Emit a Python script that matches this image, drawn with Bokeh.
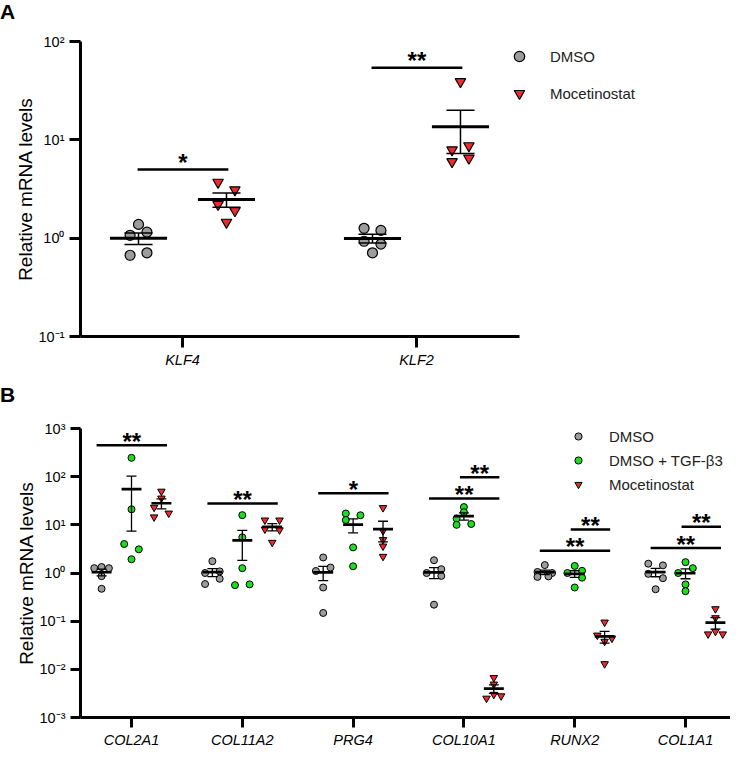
import numpy as np
from bokeh.plotting import figure
from bokeh.models import (Range1d, FixedTicker, CustomJSTickFormatter, Legend,
                          LegendItem, Div)
from bokeh.layouts import column
from bokeh.embed import file_html
from bokeh.resources import INLINE
from bokeh.core.properties import value

FONT = "Liberation Sans"

# ---------------- Panel A data ----------------
A_GENES = ["KLF4", "KLF2"]
A_GROUPS = ["DMSO", "Mocetinostat"]
A_DMSO = [[1.38, 1.15, 1.07, 0.67, 0.71],
          [1.26, 1.20, 0.93, 0.87, 0.71]]
A_MOCE = [[3.7, 3.1, 2.2, 1.9, 1.45],
          [39.0, 7.9, 8.7, 6.0, 6.5]]
A_SIG_Y = [5.0, 54.0]
A_SIG_TEXT = ["*", "**"]
A_YTICKS = [0.1, 1, 10, 100]

# ---------------- Panel B data ----------------
B_GENES = ["COL2A1", "COL11A2", "PRG4", "COL10A1", "RUNX2", "COL1A1"]
B_GROUPS = ["DMSO", "DMSO + TGF-β3", "Mocetinostat"]
B_DMSO = [[1.26, 1.33, 1.26, 0.86, 0.47],
          [1.76, 1.00, 1.08, 0.76, 0.59],
          [2.10, 1.10, 1.30, 0.50, 0.148],
          [1.84, 1.00, 1.20, 0.87, 0.22],
          [1.46, 1.05, 1.00, 0.83, 0.85],
          [1.56, 1.44, 0.96, 0.78, 0.46]]
B_TGF = [[246.0, 21.0, 4.0, 3.1, 1.93],
         [15.9, 5.5, 1.26, 0.56, 0.58],
         [17.2, 15.8, 12.6, 3.4, 1.38],
         [23.4, 18.3, 13.5, 10.0, 10.4],
         [1.40, 1.00, 1.11, 0.80, 0.50],
         [1.68, 1.26, 1.00, 0.58, 0.42]]
B_MOCE = [[49.6, 35.7, 23.0, 17.4, 14.5],
          [12.5, 12.5, 8.1, 7.8, 4.3],
          [22.6, 7.5, 4.9, 3.6, 2.2],
          [0.0067, 0.0049, 0.0025, 0.0030, 0.0028],
          [0.095, 0.051, 0.044, 0.038, 0.013],
          [0.18, 0.117, 0.054, 0.061, 0.054]]
# significance brackets: gene index, first group, last group, height, label
B_SIG_GENE = [0, 1, 2, 3, 3, 4, 4, 5, 5]
B_SIG_FROM = [0, 0, 0, 0, 1, 0, 1, 0, 1]
B_SIG_TO = [2, 2, 2, 2, 2, 2, 2, 2, 2]
B_SIG_Y = [447.0, 27.6, 45.0, 35.4, 97.0, 2.9, 8.0, 3.3, 9.1]
B_SIG_TEXT = ["**", "**", "*", "**", "**", "**", "**", "**", "**"]
B_YTICKS = [1e-3, 1e-2, 1e-1, 1, 10, 100, 1000]

# ---------------- layout (not data) ----------------
A_OFF = [-0.188, 0.188]
A_JSTEP = 0.036
A_JIT = [[[0, 1, -1, -1, 1], [-1, 1, -1, 1, 0]],
         [[-1, 1, -1, 1, 0], [0, -1, 1, -1, 1]]]
B_OFF = [-0.27, 0.0, 0.27]
B_JSTEP = 0.066
B_JIT = [[[-1, 0, 1, 0, 0], [0, -1, 1, 1, -1], [0, -1, 1, 0, 0],
          [0, -1, 1, 1, 0], [0, -1, 1, -1, 0.5], [-1, 1, -1, 1, 0]],
         [[0, 0, -1, 1, 0], [0, 0, 0, -1, 1], [-1, 1, -1, 0, 0],
          [0, 0, -1, -1, 1], [0, -1, 1, 1, 0], [0, 1, -1, 0, 0]],
         [[0, 0, -1, 1, -1], [-1, 1, -1, 1, 0], [0, 0, 0, 0, 0],
          [0, 0, -1, 0, 1], [0, -1, 1, 0, 0], [0, 0, -1, 0, 1]]]

GRAY = "#9c9c9c"
RED = "#ec2a30"
GREEN = "#1fdc1f"
W = 730

SUP = "const sup = {'-': '\u207b', '0': '\u2070', '1': '\u00b9', '2': '\u00b2', '3': '\u00b3'};"
YFMT = CustomJSTickFormatter(code=SUP + """
const e = Math.round(Math.log10(tick));
return '10' + String(e).split('').map(c => sup[c]).join('');
""")


def letter_div(letter, h):
    return Div(text=f"<div style=\"font-family:'{FONT}'; font-weight:bold; font-size:21px; "
                    f"line-height:{h}px; color:black; margin:0; padding:0;\">{letter}</div>",
               width=40, height=h, margin=0)


def make_fig(height, xr, yr, yticks, genes, borders, tick_out):
    p = figure(width=W, height=height, x_range=Range1d(*xr), y_range=Range1d(*yr),
               y_axis_type="log", output_backend="svg", toolbar_location=None,
               min_border_left=borders[0], min_border_right=borders[1],
               min_border_top=borders[2], min_border_bottom=borders[3])
    p.xgrid.visible = False
    p.ygrid.visible = False
    p.outline_line_color = None
    for ax in p.axis:
        ax.axis_line_width = 3
        ax.axis_line_color = "black"
        ax.major_tick_line_width = 3
        ax.major_tick_line_color = "black"
        ax.major_tick_in = 0
        ax.major_tick_out = tick_out
        ax.minor_tick_line_color = None
        ax.major_label_text_font = FONT
        ax.major_label_text_color = "black"
    p.yaxis.major_label_text_font_size = "14.5px"
    p.yaxis.ticker = FixedTicker(ticks=yticks)
    p.yaxis.formatter = YFMT
    p.yaxis.major_label_standoff = 5
    p.yaxis.axis_label = "Relative mRNA levels"
    p.yaxis.axis_label_text_font = FONT
    p.yaxis.axis_label_text_font_style = "normal"
    p.yaxis.axis_label_text_font_size = "19px"
    p.yaxis.axis_label_text_color = "black"
    p.yaxis.axis_label_standoff = 0
    p.xaxis.ticker = FixedTicker(ticks=list(range(1, len(genes) + 1)))
    p.xaxis.formatter = CustomJSTickFormatter(args=dict(labels=genes),
                                              code="return labels[Math.round(tick) - 1] || '';")
    p.xaxis.major_label_text_font_style = "italic"
    p.xaxis.major_label_text_font_size = "14.5px"
    p.xaxis.major_label_standoff = 4
    return p


def add_group(p, vals, off, jit, jstep, marker, size, color, lw):
    xs, ys = [], []
    for gi, row in enumerate(vals):
        for v, j in zip(row, jit[gi]):
            xs.append(gi + 1 + off + j * jstep)
            ys.append(v)
    return p.scatter(xs, ys, marker=marker, size=size, fill_color=color,
                     line_color="black", line_width=lw)


def add_stats(p, vals, off, hw_mean, hw_cap, lw_mean, lw_err):
    mx0, mx1, my, ex, ey0, ey1, cx0, cx1, cy = [], [], [], [], [], [], [], [], []
    for gi, row in enumerate(vals):
        arr = np.array(row, dtype=float)
        m = arr.mean()
        s = arr.std(ddof=1) / np.sqrt(len(arr))
        x = gi + 1 + off
        mx0.append(x - hw_mean); mx1.append(x + hw_mean); my.append(m)
        ex.append(x); ey0.append(m - s); ey1.append(m + s)
        for yy in (m - s, m + s):
            cx0.append(x - hw_cap); cx1.append(x + hw_cap); cy.append(yy)
    p.segment(ex, ey0, ex, ey1, line_color="black", line_width=lw_err)
    p.segment(cx0, cy, cx1, cy, line_color="black", line_width=lw_err)
    p.segment(mx0, my, mx1, my, line_color="black", line_width=lw_mean)


def add_sig(p, x0, x1, ys, texts, lw, yoff):
    p.segment(x0, ys, x1, ys, line_color="black", line_width=lw)
    xm = [(a + b) / 2 for a, b in zip(x0, x1)]
    p.text(xm, ys, text=texts, text_align="center", text_baseline="alphabetic",
           text_font=value(FONT), text_font_style="bold", text_font_size="24px",
           text_color="black", y_offset=yoff)


# ---------------- Panel A ----------------
A_XR = (0.5641, 3.342)
divA = letter_div("A", 24)
pA = make_fig(346, A_XR, (0.1, 100), A_YTICKS, A_GENES, (80, 0, 17, 28), 11)
pA.xaxis.bounds = (A_XR[0], 2.4402)
rA = [add_group(pA, A_DMSO, A_OFF[0], A_JIT[0], A_JSTEP, "circle", 10, GRAY, 1.2),
      add_group(pA, A_MOCE, A_OFF[1], A_JIT[1], A_JSTEP, "inverted_triangle", 10.5, RED, 1.2)]
add_stats(pA, A_DMSO, A_OFF[0], 0.122, 0.06, 3, 1.5)
add_stats(pA, A_MOCE, A_OFF[1], 0.122, 0.06, 3, 1.5)
add_sig(pA, [i + 1 + A_OFF[0] - 0.004 for i in range(len(A_GENES))],
        [i + 1 + A_OFF[1] + 0.008 for i in range(len(A_GENES))],
        A_SIG_Y, A_SIG_TEXT, 2.5, -7)
legA = Legend(items=[LegendItem(label=g, renderers=[r]) for g, r in zip(A_GROUPS, rA)],
              location=(426, 230), glyph_width=26, glyph_height=26, label_height=26,
              spacing=11, padding=0, margin=0, label_standoff=18,
              border_line_color=None, background_fill_alpha=0,
              label_text_font=FONT, label_text_font_size="15px", label_text_color="#222222")
pA.add_layout(legA, "center")

# ---------------- Panel B ----------------
divB = letter_div("B", 50)
pB = make_fig(330, (0.5397, 6.406), (1e-3, 1e3), B_YTICKS, B_GENES, (80, 0, 8, 31), 10)
rB = [add_group(pB, B_DMSO, B_OFF[0], B_JIT[0], B_JSTEP, "circle", 7, GRAY, 1),
      add_group(pB, B_TGF, B_OFF[1], B_JIT[1], B_JSTEP, "circle", 7, GREEN, 1),
      add_group(pB, B_MOCE, B_OFF[2], B_JIT[2], B_JSTEP, "inverted_triangle", 7.5, RED, 1)]
for vals, off in zip((B_DMSO, B_TGF, B_MOCE), B_OFF):
    add_stats(pB, vals, off, 0.09, 0.045, 2.7, 1.3)
bx0 = [g + 1 + B_OFF[f] + (-0.045 if f == 0 else -0.036) for g, f in zip(B_SIG_GENE, B_SIG_FROM)]
bx1 = [g + 1 + B_OFF[t] + 0.05 for g, t in zip(B_SIG_GENE, B_SIG_TO)]
add_sig(pB, bx0, bx1, B_SIG_Y, B_SIG_TEXT, 2.5, -4)
legB = Legend(items=[LegendItem(label=g, renderers=[r]) for g, r in zip(B_GROUPS, rB)],
              location=(489, 224), glyph_width=18, glyph_height=18, label_height=18,
              spacing=6, padding=0, margin=0, label_standoff=22,
              border_line_color=None, background_fill_alpha=0,
              label_text_font=FONT, label_text_font_size="15px", label_text_color="#222222")
pB.add_layout(legB, "center")

layout = column(divA, pA, divB, pB, spacing=0)
html = file_html(layout, INLINE)
with open("out.html", "w") as f:
    f.write(html)
